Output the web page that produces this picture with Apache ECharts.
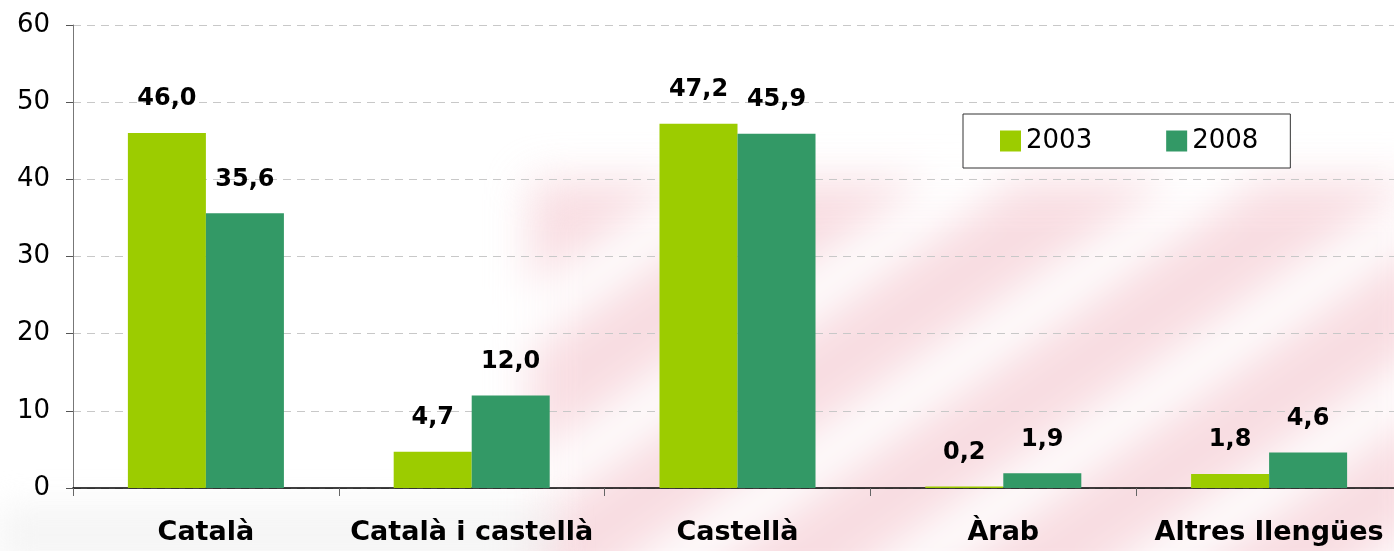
<!DOCTYPE html>
<html>
<head>
<meta charset="utf-8">
<script src="https://cdn.jsdelivr.net/npm/echarts@6/dist/echarts.min.js"></script>
<style>
    html, body { margin:0; padding:0; background:#fff; }
    #wrap { position:relative; width:1394px; height:551px; overflow:hidden; }
    /* faint watermark behind the chart */
    #wm { position:absolute; left:530px; top:180px; width:900px; height:420px;
          background:repeating-linear-gradient(145deg, #f6cfd6 0px, #f6cfd6 90px, #fff 90px, #fff 140px);
          filter:blur(22px); opacity:0.7; }
    #wm2 { position:absolute; left:0; top:505px; width:560px; height:60px;
           background:#efefef; filter:blur(16px); opacity:0.6; }
    #main { position:absolute; left:0; top:0; width:1394px; height:551px; }
</style>
</head>
<body>
<div id="wrap">
    <div id="wm"></div>
    <div id="wm2"></div>
    <div id="main"></div>
</div>
<script>
var arrCategory = ['Català', 'Català i castellà', 'Castellà', 'Àrab', 'Altres llengües'];   //类目
var arrData2003 = [46.0, 4.7, 47.2, 0.2, 1.8];      //2003年
var arrData2008 = [35.6, 12.0, 45.9, 1.9, 4.6];     //2008年
var arrSeriesName = ['2003', '2008'];

var FONT = 'DejaVu Sans';

function fmtComma(p){
    return p.value.toFixed(1).replace('.', ',');
}

function makeBar(name, data, color){
    return {
        name: name,
        type: 'bar',
        data: data,
        barGap: '0%',
        barCategoryGap: '41.3%',
        itemStyle: { color: color },
        label: {
            show: true,
            position: 'top',
            distance: 22,
            formatter: fmtComma,
            color: '#000',
            fontFamily: FONT,
            fontWeight: 'bold',
            fontSize: 24,
            lineHeight: 24
        },
        silent: true
    };
}

var myChart = echarts.init(document.getElementById('main'), null, { renderer: 'canvas' });
var option = {
    backgroundColor: 'transparent',
    animation: false,
    textStyle: { fontFamily: FONT },
    grid: {
        left: 73,
        top: 25,
        width: 1329,
        height: 463,
        containLabel: false,
        outerBoundsMode: 'none'
    },
    legend: {
        data: arrSeriesName,
        left: 963,
        top: 114,
        orient: 'horizontal',
        icon: 'rect',
        itemWidth: 21,
        itemHeight: 21,
        itemGap: 74,
        padding: [14, 32, 14, 37],
        backgroundColor: '#fff',
        borderColor: '#333',
        borderWidth: 1,
        borderRadius: 0,
        selectedMode: false,
        textStyle: { color: '#000', fontFamily: FONT, fontSize: 26 }
    },
    xAxis: {
        type: 'category',
        data: arrCategory,
        axisLine: { lineStyle: { color: '#000', width: 1.5 } },
        axisTick: { show: true, length: 8, lineStyle: { color: '#666' } },
        axisLabel: {
            margin: 31,
            color: '#000',
            fontFamily: FONT,
            fontWeight: 'bold',
            fontSize: 27,
            interval: 0
        },
        splitLine: { show: false }
    },
    yAxis: {
        type: 'value',
        min: 0,
        max: 60,
        interval: 10,
        axisLine: { show: true, lineStyle: { color: '#777', width: 1 } },
        axisTick: { show: true, length: 7, lineStyle: { color: '#555' } },
        axisLabel: { margin: 23, color: '#000', fontFamily: FONT, fontSize: 26 },
        splitLine: { show: true, lineStyle: { color: '#c8c8c8', type: [8, 6], width: 1 } }
    },
    series: [
        makeBar(arrSeriesName[0], arrData2003, '#9ccc00'),
        makeBar(arrSeriesName[1], arrData2008, '#339966')
    ]
};
myChart.setOption(option);
</script>
</body>
</html>
